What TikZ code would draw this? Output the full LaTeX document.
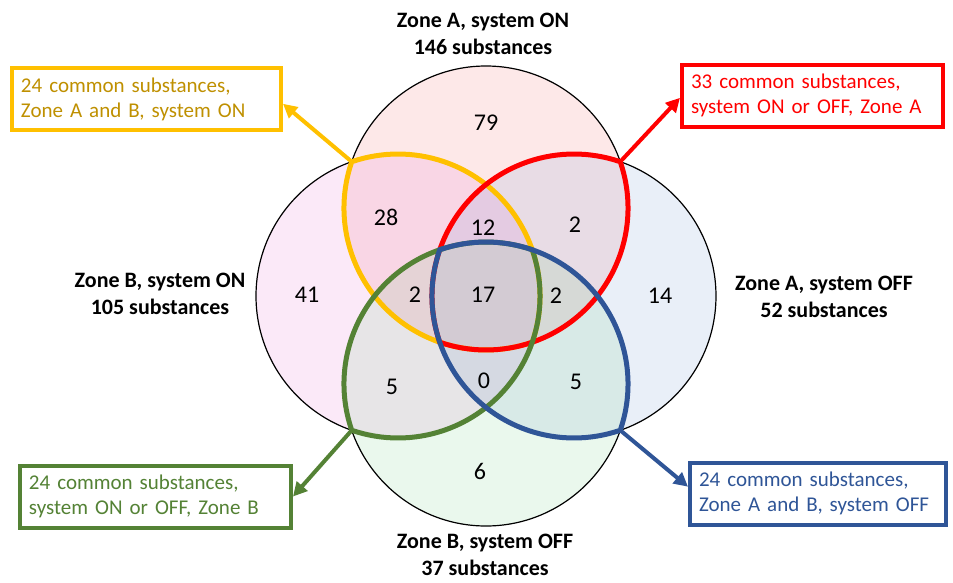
\documentclass[tikz,border=0pt]{standalone}
\usepackage{fontspec}
\setmainfont{Carlito}
\usetikzlibrary{arrows.meta}

\definecolor{zonetop}{RGB}{242,95,95}
\definecolor{zoneleft}{RGB}{228,102,208}
\definecolor{zoneright}{RGB}{102,142,208}
\definecolor{zonebottom}{RGB}{108,202,128}
\definecolor{ringgold}{RGB}{255,192,0}
\definecolor{textgold}{RGB}{191,144,0}
\definecolor{ringred}{RGB}{255,0,0}
\definecolor{ringgreen}{RGB}{84,130,53}
\definecolor{ringblue}{RGB}{47,85,151}

\tikzset{
  zonefill/.style={fill=#1, fill opacity=0.14},
  zoneline/.style={draw=black, line width=1.2pt},
  lens/.style={draw=#1, line width=5pt},
  countlabel/.style={font=\fontsize{24}{24}\selectfont, inner sep=0pt},
  zonetitle/.style={font=\fontsize{22}{27}\selectfont\bfseries, align=center},
  callout/.style={draw=#1, text=#1, line width=4pt, fill=white, align=left,
    inner xsep=9pt, minimum height=62pt, font=\fontsize{21}{25}\selectfont},
  pointer/.style={draw=#1, line width=4pt, -{Triangle[length=14pt,width=14pt]}},
}

\begin{document}
\begin{tikzpicture}[x=1pt,y=1pt]
\useasboundingbox (-486,-286) rectangle (467,296);

% four zones
\fill[zonefill=zonetop] (0,88) circle (142);
\fill[zonefill=zoneleft] (-88,0) circle (142);
\fill[zonefill=zoneright] (88,0) circle (142);
\fill[zonefill=zonebottom] (0,-88) circle (142);
\draw[zoneline] (0,88) circle (142);
\draw[zoneline] (-88,0) circle (142);
\draw[zoneline] (88,0) circle (142);
\draw[zoneline] (0,-88) circle (142);

% outer corners of the lenses
\coordinate (bothOn) at (-134.25,134.25);
\coordinate (zoneA) at (134.25,134.25);
\coordinate (zoneB) at (-134.25,-134.25);
\coordinate (bothOff) at (134.25,-134.25);

% common lenses
\draw[lens=ringgold] (bothOn) arc[start angle=161, end angle=289, radius=142]
  arc[start angle=-19, end angle=109, radius=142] -- cycle;
\draw[lens=ringred] (zoneA) arc[start angle=19, end angle=-109, radius=142]
  arc[start angle=199, end angle=71, radius=142] -- cycle;
\draw[lens=ringgreen] (zoneB) arc[start angle=199, end angle=71, radius=142]
  arc[start angle=19, end angle=-109, radius=142] -- cycle;
\draw[lens=ringblue] (bothOff) arc[start angle=-19, end angle=109, radius=142]
  arc[start angle=161, end angle=289, radius=142] -- cycle;

% counts
\node[countlabel] (n79) at (0,173) {79};
\node[countlabel] (n28) at (-100,79) {28};
\node[countlabel] (n12) at (-3,68) {12};
\node[countlabel] (n2a) at (89,71) {2};
\node[countlabel] (n41) at (-179,1) {41};
\node[countlabel] (n2b) at (-71,1) {2};
\node[countlabel] (n17) at (-3,1) {17};
\node[countlabel] (n2c) at (70,0) {2};
\node[countlabel] (n14) at (174,0) {14};
\node[countlabel] (n5a) at (-94,-91) {5};
\node[countlabel] (n0) at (-2,-85) {0};
\node[countlabel] (n5b) at (90,-86) {5};
\node[countlabel] (n6) at (-6,-175) {6};

% zone titles
\node[zonetitle] (zoneAon) at (-3,262) {Zone A, system ON\\146 substances};
\node[zonetitle] (zoneBon) at (-326,2) {Zone B, system ON\\105 substances};
\node[zonetitle] (zoneAoff) at (338,-1) {Zone A, system OFF\\52 substances};
\node[zonetitle] (zoneBoff) at (-1,-259) {Zone B, system OFF\\37 substances};

% callouts
\node[callout=ringgold, text=textgold, text width=251pt] (bothOnBox) at (-339.5,197)
  {24 common substances,\\Zone A and B, system ON};
\node[callout=ringred, text width=243pt] (zoneABox) at (326.5,200.5)
  {33 common substances,\\system ON or OFF, Zone A};
\node[callout=ringgreen, text width=253pt] (zoneBBox) at (-330.5,-200.5)
  {24 common substances,\\system ON or OFF, Zone B};
\node[callout=ringblue, text width=238pt] (bothOffBox) at (332,-197.5)
  {24 common substances,\\Zone A and B, system OFF};

\draw[pointer=ringgold] (bothOn) -- (bothOnBox.-2.5);
\draw[pointer=ringred] (zoneA) -- (zoneABox.181.5);
\draw[pointer=ringgreen] (zoneB) -- (zoneBBox.east);
\draw[pointer=ringblue] (bothOff) -- (bothOffBox.177);
\end{tikzpicture}
\end{document}
